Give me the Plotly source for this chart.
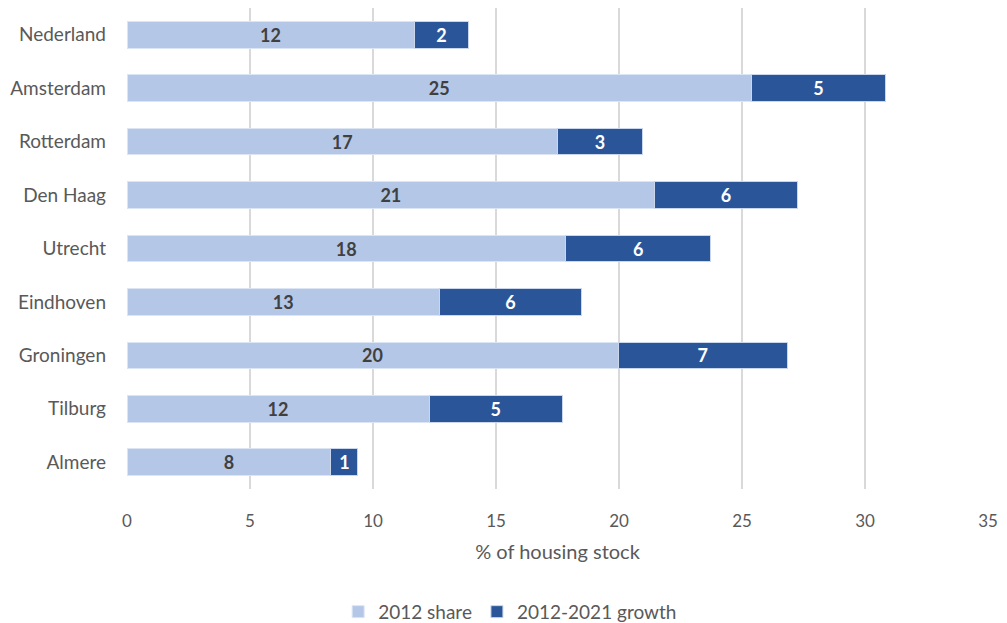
import plotly.graph_objects as go

# Share of housing stock per area (%)
areas = ["Nederland", "Amsterdam", "Rotterdam", "Den Haag", "Utrecht",
         "Eindhoven", "Groningen", "Tilburg", "Almere"]
share_2012 = [11.67, 25.39, 17.49, 21.45, 17.83, 12.70, 19.96, 12.28, 8.29]
growth_2012_2021 = [2.23, 5.44, 3.47, 5.79, 5.90, 5.77, 6.89, 5.42, 1.10]
x_ticks = [0, 5, 10, 15, 20, 25, 30, 35]

LIGHT = "#B4C7E7"
DARK = "#2A5699"
TEXT = "#595959"
FONT = "Lato, Calibri, sans-serif"

fig = go.Figure()
fig.add_trace(go.Bar(
    y=areas, x=share_2012, orientation="h", name="2012 share",
    marker=dict(color=LIGHT, line=dict(color="#DCE5F3", width=1)),
    text=share_2012, texttemplate="%{x:.0f}", textposition="inside",
    insidetextanchor="middle", constraintext="none", textangle=0,
    textfont=dict(family=FONT, size=18, color="#404040", weight="bold"),
))
fig.add_trace(go.Bar(
    y=areas, x=growth_2012_2021, orientation="h", name="2012-2021 growth",
    marker=dict(color=DARK, line=dict(color="#C9D6EC", width=1)),
    text=growth_2012_2021, texttemplate="%{x:.0f}", textposition="inside",
    insidetextanchor="middle", constraintext="none", textangle=0,
    textfont=dict(family=FONT, size=18, color="#FFFFFF", weight="bold"),
))

fig.update_layout(
    width=1007, height=623,
    barmode="stack", bargap=0.5,
    plot_bgcolor="white", paper_bgcolor="white",
    margin=dict(l=127, r=19, t=8, b=134, autoexpand=False),
    font=dict(family=FONT, size=17, color=TEXT),
    showlegend=True,
    legend=dict(orientation="h", x=0.445, xanchor="center",
                yref="container", y=0.018, yanchor="middle",
                font=dict(size=19, color=TEXT),
                itemwidth=30, traceorder="normal"),
)
fig.update_xaxes(
    range=[0, 35], tickvals=x_ticks, ticktext=[str(t) for t in x_ticks],
    showgrid=True, gridcolor="#D9D9D9", gridwidth=2, zeroline=False,
    showline=False, ticks="", ticklabelstandoff=20, automargin=False,
    title=dict(text="% of housing stock", font=dict(size=20, color=TEXT),
               standoff=14),
    tickfont=dict(size=17, color=TEXT),
)
fig.update_yaxes(
    autorange="reversed", showgrid=False, showline=False, ticks="",
    ticklabelstandoff=20, automargin=False, tickfont=dict(size=19, color=TEXT),
)

fig.write_html("out.html")
